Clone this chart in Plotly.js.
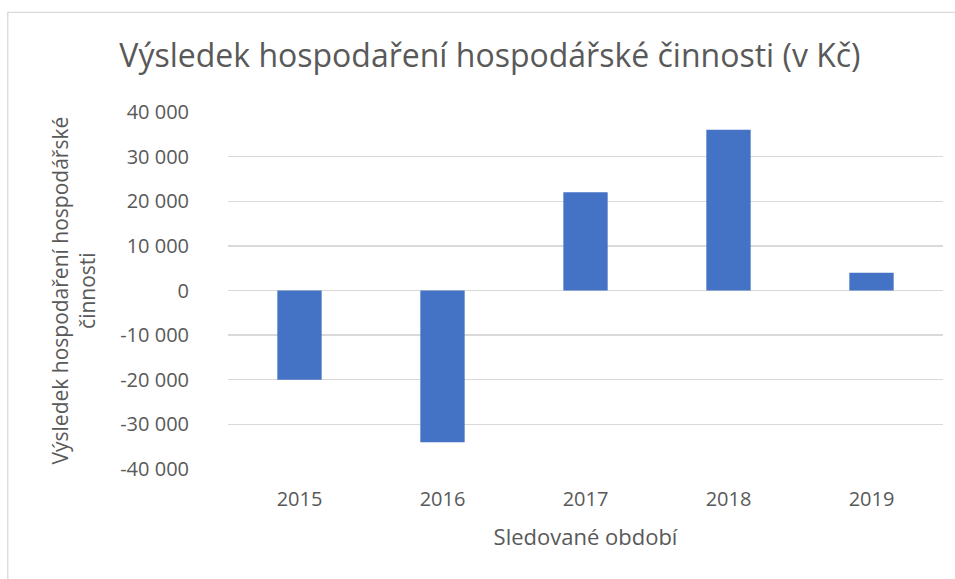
<!DOCTYPE html>
<html>
<head>
<meta charset="utf-8">
<script src="https://cdn.plot.ly/plotly-3.0.1.min.js"></script>
<style>html,body{margin:0;padding:0;background:#fff;}#chart{width:955px;height:579px;}</style>
</head>
<body>
<div id="chart"></div>
<script>
const years = ['2015', '2016', '2017', '2018', '2019'];
const values = [-20000, -34000, 22000, 36000, 4000];
const tickVals = [-40000, -30000, -20000, -10000, 0, 10000, 20000, 30000, 40000];
const tickText = ['-40 000', '-30 000', '-20 000', '-10 000', '0', '10 000', '20 000', '30 000', '40 000'];

const FONT = 'Open Sans, Noto Sans, sans-serif';
const TXT = '#595959';

const data = [{
  type: 'bar',
  x: years,
  y: values,
  marker: {color: '#4472C4'},
  hoverinfo: 'x+y'
}];

const layout = {
  width: 955, height: 579,
  margin: {l: 228, r: 12, t: 112, b: 110},
  paper_bgcolor: '#fff', plot_bgcolor: '#fff',
  showlegend: false,
  bargap: 0.69,
  font: {family: FONT, color: TXT},
  title: {
    text: 'Výsledek hospodaření hospodářské činnosti (v Kč)',
    font: {family: FONT, size: 32, color: TXT},
    x: 0.513, xanchor: 'center', y: 0.903, yanchor: 'middle'
  },
  xaxis: {
    type: 'category',
    showgrid: false, zeroline: false, showline: false,
    tickfont: {size: 20, color: TXT},
    ticklabelstandoff: 16,
    title: {text: 'Sledované období', font: {size: 22, color: TXT}, standoff: 18}
  },
  yaxis: {
    range: [-40000, 40000],
    tickvals: tickVals, ticktext: tickText,
    showgrid: true, gridcolor: '#d9d9d9', gridwidth: 1.3,
    zeroline: true, zerolinecolor: '#d9d9d9', zerolinewidth: 1.3,
    showline: false,
    tickfont: {size: 20, color: TXT},
    ticklabelstandoff: 38
  },
  annotations: [{
    text: 'Výsledek hospodaření hospodářské<br>činnosti',
    xref: 'paper', yref: 'paper', x: 0, y: 0.5,
    xanchor: 'center', yanchor: 'middle',
    xshift: -155, textangle: -90,
    showarrow: false,
    font: {family: FONT, size: 21, color: TXT}
  }],
  shapes: [{
    type: 'rect', xref: 'paper', yref: 'paper',
    x0: -0.308, x1: 1.2, y0: -0.5, y1: 1.279,
    line: {color: '#d9d9d9', width: 1.3}, fillcolor: 'rgba(0,0,0,0)', layer: 'below'
  }]
};

Plotly.newPlot('chart', data, layout, {displayModeBar: false, staticPlot: true});
</script>
</body>
</html>
